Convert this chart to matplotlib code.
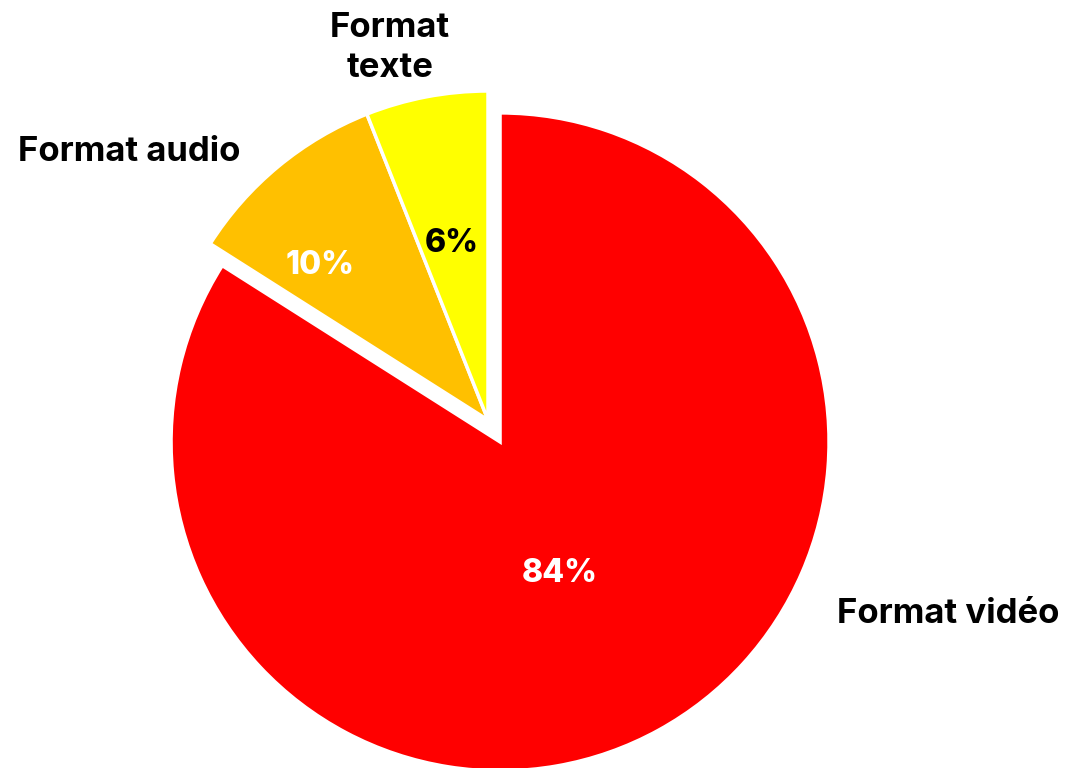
import matplotlib
matplotlib.use("Agg")
import matplotlib.pyplot as plt

categories = ["Format vidéo", "Format audio", "Format texte"]
values = [84, 10, 6]
colors = ["#FF0000", "#FFC000", "#FFFF00"]
pct_colors = ["white", "white", "black"]

W, H = 1068, 768
fig = plt.figure(figsize=(W / 100, H / 100), dpi=100)
ax = fig.add_axes([0, 0, 1, 1])

cx, cy, r = 488, H - 420, 329
explode = [25, 0, 0]  # pixels in data units
wedges, _ = ax.pie(values, colors=colors, explode=explode, startangle=90,
                   counterclock=False, center=(cx, cy), radius=r,
                   wedgeprops=dict(edgecolor="white", linewidth=2.5),
                   frame=True)
ax.set_xlim(0, W)
ax.set_ylim(0, H)
ax.set_aspect("equal")
ax.axis("off")

font = "Inter"
pct_pos = [(560, 573), (320, 265), (452, 243)]
for v, (x, y), c in zip(values, pct_pos, pct_colors):
    ax.text(x, H - y, f"{v}%", ha="center", va="center", color=c,
            fontsize=23, fontweight="heavy", family=font)

lab_pos = [(948, 614), (129, 152), (390, 48)]
lab_text = ["Format vidéo", "Format audio", "Format\ntexte"]
for t, (x, y) in zip(lab_text, lab_pos):
    ax.text(x, H - y, t, ha="center", va="center", color="black",
            fontsize=25, fontweight="bold", family=font, linespacing=1.3)

fig.savefig("out.png", dpi=100, facecolor="white")
